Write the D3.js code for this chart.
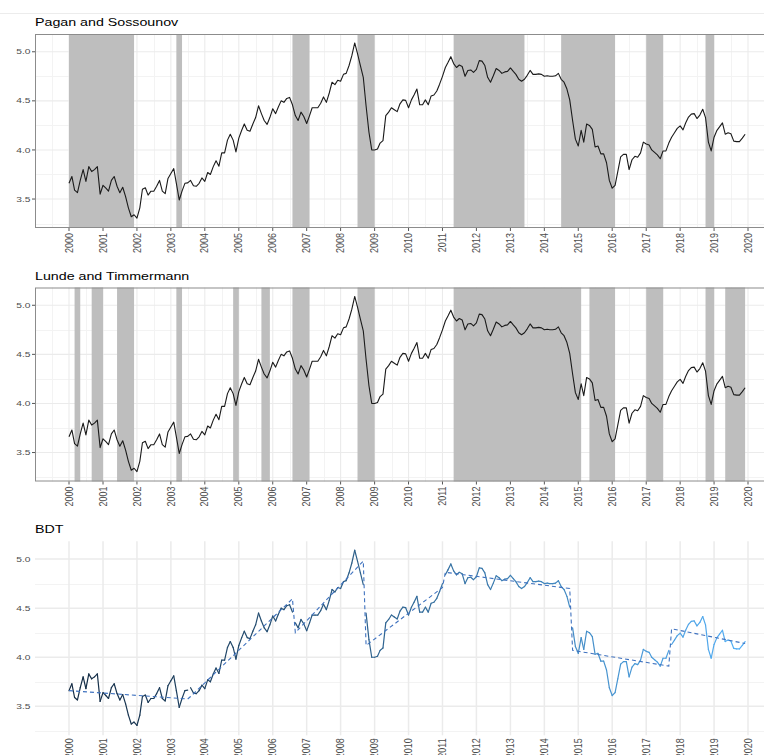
<!DOCTYPE html>
<html>
<head>
<meta charset="utf-8">
<script src="https://cdn.jsdelivr.net/npm/d3@7"></script>
<style>
  body { margin: 0; background: #fff; }
  text { font-family: "Liberation Sans", Arial, sans-serif; }
</style>
</head>
<body>
<div id="chart"></div>
<script>
// monthly index, Jan 2000 .. Dec 2019 (one row per year)
var monthValues = [
  3.66, 3.73, 3.59, 3.565, 3.69, 3.80, 3.68, 3.83, 3.78, 3.80, 3.83, 3.55,
  3.64, 3.61, 3.58, 3.69, 3.73, 3.63, 3.565, 3.62, 3.525, 3.41, 3.32, 3.34,
  3.305, 3.41, 3.60, 3.615, 3.54, 3.58, 3.58, 3.63, 3.69, 3.58, 3.555, 3.71,
  3.76, 3.81, 3.66, 3.49, 3.58, 3.66, 3.665, 3.69, 3.635, 3.63, 3.66, 3.715,
  3.68, 3.77, 3.75, 3.83, 3.89, 3.835, 3.97, 3.97, 4.10, 4.16, 4.10, 3.98,
  4.12, 4.20, 4.265, 4.20, 4.19, 4.265, 4.33, 4.45, 4.37, 4.30, 4.26, 4.33,
  4.42, 4.37, 4.435, 4.50, 4.485, 4.525, 4.535, 4.46, 4.35, 4.30, 4.385, 4.34,
  4.27, 4.35, 4.43, 4.43, 4.43, 4.475, 4.54, 4.485, 4.58, 4.69, 4.665, 4.71,
  4.70, 4.77, 4.78, 4.86, 4.96, 5.09, 4.98, 4.86, 4.74, 4.45, 4.18, 4.00,
  4.00, 4.01, 4.07, 4.095, 4.35, 4.385, 4.43, 4.41, 4.39, 4.47, 4.51, 4.505,
  4.43, 4.51, 4.56, 4.62, 4.46, 4.46, 4.51, 4.46, 4.55, 4.56, 4.60, 4.67,
  4.75, 4.84, 4.89, 4.95, 4.88, 4.84, 4.865, 4.85, 4.75, 4.81, 4.815, 4.79,
  4.82, 4.91, 4.905, 4.86, 4.74, 4.69, 4.755, 4.83, 4.81, 4.78, 4.795, 4.80,
  4.835, 4.80, 4.77, 4.72, 4.70, 4.72, 4.76, 4.81, 4.77, 4.77, 4.775, 4.77,
  4.75, 4.755, 4.75, 4.75, 4.755, 4.78, 4.72, 4.69, 4.62, 4.51, 4.30, 4.11,
  4.04, 4.20, 4.08, 4.265, 4.25, 4.21, 4.03, 4.04, 3.96, 3.96, 3.87, 3.69,
  3.61, 3.64, 3.78, 3.93, 3.955, 3.955, 3.80, 3.90, 3.935, 3.925, 3.97, 4.08,
  4.06, 4.05, 4.00, 3.975, 3.95, 3.91, 3.99, 3.99, 4.07, 4.13, 4.175, 4.22,
  4.245, 4.205, 4.275, 4.335, 4.365, 4.37, 4.32, 4.355, 4.415, 4.33, 4.08, 3.99,
  4.13, 4.20, 4.235, 4.275, 4.16, 4.175, 4.165, 4.09, 4.085, 4.085, 4.12, 4.16
];

var yearTicks = [2000, 2001, 2002, 2003, 2004, 2005, 2006, 2007, 2008, 2009, 2010,
                 2011, 2012, 2013, 2014, 2015, 2016, 2017, 2018, 2019, 2020];
var valueTicks = [3.5, 4.0, 4.5, 5.0];
var valueMinor = [3.25, 3.75, 4.25, 4.75];

var panelTitles = ["Pagan and Sossounov", "Lunde and Timmermann", "BDT"];

// shaded phases
var psPeriods = [
  ["2000-01-01", "2001-12-01"], ["2003-03-01", "2003-05-01"], ["2006-08-01", "2007-02-01"],
  ["2008-07-01", "2009-01-01"], ["2011-05-01", "2013-06-01"], ["2014-07-01", "2016-02-01"],
  ["2017-01-01", "2017-07-01"], ["2018-10-01", "2019-01-01"]
];
var ltPeriods = [
  ["2000-03-01", "2000-05-01"], ["2000-09-01", "2001-01-01"], ["2001-06-01", "2001-12-01"],
  ["2003-03-01", "2003-05-01"], ["2004-11-01", "2005-01-01"], ["2005-09-01", "2005-12-01"],
  ["2006-08-01", "2007-02-01"], ["2008-07-01", "2009-01-01"], ["2011-05-01", "2015-02-01"],
  ["2015-05-01", "2016-02-01"], ["2017-01-01", "2017-07-01"], ["2018-10-01", "2019-01-01"],
  ["2019-05-01", "2019-12-01"]
];

// BDT regimes and their linear trends
var bdtRegimeStart = ["2000-01-01", "2003-08-01", "2006-09-01", "2008-10-01", "2011-02-01", "2014-11-01", "2017-10-01"];
var bdtRegimeEnd   = ["2003-07-01", "2006-08-01", "2008-09-01", "2011-01-01", "2014-10-01", "2017-09-01", "2019-12-01"];
var bdtTrendStart  = [3.66, 3.60, 4.25, 4.12, 4.865, 4.07, 4.29];
var bdtTrendEnd    = [3.575, 4.595, 4.98, 4.71, 4.70, 3.91, 4.14];

var W = 764, H = 755;
var parseDate = d3.timeParse("%Y-%m-%d");
var months = d3.timeMonth.range(new Date(2000, 0, 1), new Date(2020, 0, 1));
var series = months.map((d, i) => ({date: d, value: monthValues[i]}));

var panelLeft = 35, panelRight = 782, panelH = 194;
var panelTops = [34, 287.5, 541.3];

var x = d3.scaleTime()
    .domain([new Date(2000, 0, 1), new Date(2020, 0, 1)])
    .range([69, 748]);

var colour = d3.scaleTime()
    .domain([months[0], months[months.length - 1]])
    .range(["#132B43", "#56B1F7"])
    .interpolate(d3.interpolateLab);

var svg = d3.select("#chart").append("svg")
    .attr("width", W)
    .attr("height", H)
    .style("display", "block");

svg.append("rect").attr("width", W).attr("height", H).attr("fill", "#fff");
svg.append("line")
    .attr("x1", 0).attr("x2", W).attr("y1", 13.5).attr("y2", 13.5)
    .attr("stroke", "#ececec");

var minorYears = yearTicks.map(d => new Date(d - 1, 6, 2)).concat([new Date(2020, 6, 2)]);

function drawPanel(k, periods) {
    var top = panelTops[k], bottom = top + panelH;
    var bw = periods !== null;
    var y = d3.scaleLinear().domain([3.205, 5.181]).range([bottom, top]);
    var g = svg.append("g");

    // grid
    g.selectAll("line.hminor").data(valueMinor).enter().append("line")
        .attr("x1", panelLeft).attr("x2", panelRight)
        .attr("y1", d => Math.round(y(d)) + 0.5).attr("y2", d => Math.round(y(d)) + 0.5)
        .attr("stroke", "#f3f3f3").attr("stroke-width", 1);
    if (bw) {
        g.selectAll("line.vminor").data(minorYears).enter().append("line")
            .attr("x1", d => Math.round(x(d)) + 0.5).attr("x2", d => Math.round(x(d)) + 0.5)
            .attr("y1", top).attr("y2", bottom)
            .attr("stroke", "#f3f3f3").attr("stroke-width", 1);
    }
    g.selectAll("line.hmajor").data(valueTicks).enter().append("line")
        .attr("x1", panelLeft).attr("x2", panelRight)
        .attr("y1", d => y(d)).attr("y2", d => y(d))
        .attr("stroke", "#ebebeb").attr("stroke-width", bw ? 1.1 : 1.5);
    g.selectAll("line.vmajor").data(yearTicks).enter().append("line")
        .attr("x1", d => x(new Date(d, 0, 1))).attr("x2", d => x(new Date(d, 0, 1)))
        .attr("y1", top).attr("y2", bottom)
        .attr("stroke", "#ebebeb").attr("stroke-width", bw ? 1.1 : 1.5);

    if (bw) {
        g.selectAll("rect.phase").data(periods).enter().append("rect")
            .attr("x", d => x(parseDate(d[0])))
            .attr("width", d => x(parseDate(d[1])) - x(parseDate(d[0])))
            .attr("y", top).attr("height", panelH)
            .attr("fill", "#bebebe");

        g.append("path")
            .datum(series)
            .attr("fill", "none")
            .attr("stroke", "#1a1a1a")
            .attr("stroke-width", 1.1)
            .attr("stroke-linejoin", "round")
            .attr("d", d3.line().x(d => x(d.date)).y(d => y(d.value)));

        g.append("rect")
            .attr("x", panelLeft + 0.5).attr("y", top + 0.5)
            .attr("width", panelRight - panelLeft).attr("height", panelH - 1)
            .attr("fill", "none").attr("stroke", "#8c8c8c").attr("stroke-width", 1);

        g.selectAll("line.xtick").data(yearTicks).enter().append("line")
            .attr("x1", d => x(new Date(d, 0, 1))).attr("x2", d => x(new Date(d, 0, 1)))
            .attr("y1", bottom).attr("y2", bottom + 3)
            .attr("stroke", "#555");
        g.selectAll("line.ytick").data(valueTicks).enter().append("line")
            .attr("x1", panelLeft - 3).attr("x2", panelLeft)
            .attr("y1", d => y(d)).attr("y2", d => y(d))
            .attr("stroke", "#555");
    } else {
        // BDT: regime-wise coloured line plus dashed trend
        bdtRegimeStart.forEach(function(s, r) {
            var a = parseDate(s), b = parseDate(bdtRegimeEnd[r]);
            var pts = series.filter(d => d.date >= a && d.date <= b);
            var segs = d3.pairs(pts);
            g.selectAll(null).data(segs).enter().append("line")
                .attr("x1", d => x(d[0].date)).attr("y1", d => y(d[0].value))
                .attr("x2", d => x(d[1].date)).attr("y2", d => y(d[1].value))
                .attr("stroke", d => colour(d[0].date))
                .attr("stroke-width", 1.2)
                .attr("stroke-linecap", "round");
        });

        var trend = [];
        bdtRegimeStart.forEach(function(s, r) {
            trend.push({date: parseDate(s), value: bdtTrendStart[r]});
            trend.push({date: parseDate(bdtRegimeEnd[r]), value: bdtTrendEnd[r]});
        });
        g.append("path")
            .datum(trend)
            .attr("fill", "none")
            .attr("stroke", "#3f72bf")
            .attr("stroke-width", 1.1)
            .attr("stroke-dasharray", "4,3")
            .attr("d", d3.line().x(d => x(d.date)).y(d => y(d.value)));
    }

    // labels
    g.append("text")
        .attr("transform", `translate(${panelLeft},${top - 8}) scale(1.32,1)`)
        .attr("font-size", "10.8px")
        .attr("fill", "#000")
        .text(panelTitles[k]);

    g.selectAll("text.ylab").data(valueTicks).enter().append("text")
        .attr("transform", d => `translate(30.5,${y(d)}) scale(1.38,1)`)
        .attr("dy", "0.35em")
        .attr("text-anchor", "end")
        .attr("font-size", "7.4px")
        .attr("fill", "#4d4d4d")
        .text(d => d3.format(".1f")(d));

    var labTop = bw ? bottom + 5 : bottom + 3;
    g.selectAll("text.xlab").data(yearTicks).enter().append("text")
        .attr("transform", d => `translate(${x(new Date(d, 0, 1))},${labTop}) rotate(-90) scale(1,1.15)`)
        .attr("dy", "0.35em")
        .attr("text-anchor", "end")
        .attr("font-size", "9px")
        .attr("fill", "#4d4d4d")
        .text(d => d);
}

drawPanel(0, psPeriods);
drawPanel(1, ltPeriods);
drawPanel(2, null);
</script>
</body>
</html>
